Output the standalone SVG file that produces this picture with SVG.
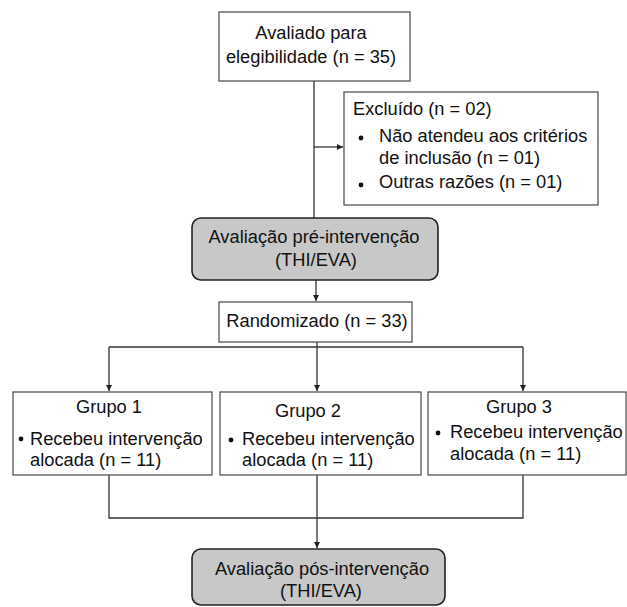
<svg xmlns="http://www.w3.org/2000/svg" width="627" height="607" viewBox="0 0 627 607">
<defs>
<style>
text{font-family:"Liberation Sans",Arial,sans-serif;font-size:18.3px;fill:#111}
.box{fill:#fff;stroke:#555;stroke-width:1.3}
.grey{fill:#c8c8c8;stroke:#222;stroke-width:1.6}
.ln{fill:none;stroke:#333;stroke-width:1.3}
.c{text-anchor:middle}
.dot{fill:#111}
</style>
<marker id="ah" viewBox="0 0 10 10" refX="10" refY="5" markerWidth="6" markerHeight="6" markerUnits="userSpaceOnUse" orient="auto">
<path d="M0,0 L10,5 L0,10 Z" fill="#222"/>
</marker>
</defs>
<rect width="627" height="607" fill="#fff"/>
<g id="connectors">
<line class="ln" x1="314" y1="81" x2="314" y2="218"/>
<line class="ln" x1="314" y1="147" x2="343" y2="147" marker-end="url(#ah)"/>
<line class="ln" x1="316" y1="280" x2="316" y2="301" marker-end="url(#ah)"/>
<line class="ln" x1="317" y1="342" x2="317" y2="347"/>
<line class="ln" x1="109" y1="347" x2="523" y2="347"/>
<line class="ln" x1="109" y1="347" x2="109" y2="391" marker-end="url(#ah)"/>
<line class="ln" x1="317" y1="347" x2="317" y2="391" marker-end="url(#ah)"/>
<line class="ln" x1="523" y1="347" x2="523" y2="391" marker-end="url(#ah)"/>
<polyline class="ln" points="109,475 109,518 523,518 523,475"/>
<line class="ln" x1="317" y1="475" x2="317" y2="548" marker-end="url(#ah)"/>
</g>
<g id="n_avaliado">
<rect class="box" x="219" y="12" width="191" height="69"/>
<text class="c" x="311" y="39">Avaliado para</text>
<text class="c" x="311" y="63">elegibilidade (n = 35)</text>
</g>
<g id="n_excluido">
<rect class="box" x="344" y="92" width="254" height="113"/>
<text x="353" y="115">Excluído (n = 02)</text>
<circle class="dot" cx="361" cy="138" r="2.4"/>
<text x="379" y="142">Não atendeu aos critérios</text>
<text x="379" y="164">de inclusão (n = 01)</text>
<circle class="dot" cx="361" cy="185" r="2.4"/>
<text x="379" y="188">Outras razões (n = 01)</text>
</g>
<g id="n_pre">
<rect class="grey" x="192" y="218" width="246" height="62" rx="9"/>
<text class="c" x="314" y="243">Avaliação pré-intervenção</text>
<text class="c" x="316" y="266">(THI/EVA)</text>
</g>
<g id="n_random">
<rect class="box" x="219" y="302" width="193" height="40"/>
<text class="c" x="317" y="327">Randomizado (n = 33)</text>
</g>
<g id="n_g1">
<rect class="box" x="13" y="392" width="199" height="83"/>
<text class="c" x="109" y="413">Grupo 1</text>
<circle class="dot" cx="21" cy="439" r="2.4"/>
<text x="30" y="445">Recebeu intervenção</text>
<text x="30" y="466">alocada (n = 11)</text>
</g>
<g id="n_g2">
<rect class="box" x="220" y="392" width="201" height="83"/>
<text class="c" x="308" y="417">Grupo 2</text>
<circle class="dot" cx="231" cy="440" r="2.4"/>
<text x="242" y="445">Recebeu intervenção</text>
<text x="242" y="466">alocada (n = 11)</text>
</g>
<g id="n_g3">
<rect class="box" x="428" y="392" width="198" height="83"/>
<text class="c" x="519" y="413">Grupo 3</text>
<circle class="dot" cx="438" cy="433" r="2.4"/>
<text x="450" y="438">Recebeu intervenção</text>
<text x="450" y="460">alocada (n = 11)</text>
</g>
<g id="n_pos">
<rect class="grey" x="192" y="549" width="253" height="56" rx="9"/>
<text class="c" x="322" y="575">Avaliação pós-intervenção</text>
<text class="c" x="321" y="597">(THI/EVA)</text>
</g>
</svg>
